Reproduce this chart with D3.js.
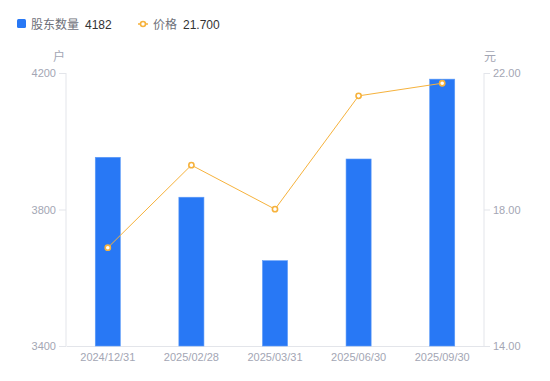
<!DOCTYPE html>
<html>
<head>
<meta charset="utf-8">
<script src="https://cdn.jsdelivr.net/npm/d3@7/dist/d3.min.js"></script>
<style>
  body { margin: 0; background: #fff; }
  svg { display: block; font-family: "Liberation Sans", "Noto Sans CJK SC", sans-serif; }
</style>
</head>
<body>
<div id="chart"></div>
<script>
// Data
const dates = ['2024/12/31', '2025/02/28', '2025/03/31', '2025/06/30', '2025/09/30'];
const holders = [3953, 3836, 3650, 3948, 4182];
const prices = [16.88, 19.30, 18.01, 21.33, 21.70];
const leftTicks = [3400, 3800, 4200];
const rightTicks = [14, 18, 22];

const W = 550, H = 381;
const margin = { top: 73, right: 66, bottom: 35, left: 66 };
const innerW = W - margin.left - margin.right;
const innerH = H - margin.top - margin.bottom;

const barColor = '#2878F5';
const lineColor = '#F6B23C';
const labelColor = '#A3A6B4';
const axisColor = '#E3E5EA';

const svg = d3.select('#chart').append('svg')
    .attr('width', W)
    .attr('height', H);

const g = svg.append('g')
    .attr('transform', `translate(${margin.left}, ${margin.top})`);

// Scales
const x = d3.scaleBand().domain(dates).range([0, innerW]);
const yLeft = d3.scaleLinear().domain([3400, 4200]).range([innerH, 0]);
const yRight = d3.scaleLinear().domain([14, 22]).range([innerH, 0]);

// Left axis
const leftAxis = g.append('g')
    .call(d3.axisLeft(yLeft).tickValues(leftTicks).tickFormat(d3.format('d')).tickSize(7).tickPadding(3));
leftAxis.select('.domain').attr('stroke', axisColor).attr('d', `M0,0V${innerH}`);
leftAxis.selectAll('.tick line').attr('stroke', axisColor);
leftAxis.selectAll('.tick text').attr('fill', labelColor).style('font-size', '11px');

// Right axis
const rightAxis = g.append('g')
    .attr('transform', `translate(${innerW}, 0)`)
    .call(d3.axisRight(yRight).tickValues(rightTicks).tickFormat(d3.format('.2f')).tickSize(6).tickPadding(3));
rightAxis.select('.domain').attr('stroke', axisColor).attr('d', `M0,0V${innerH}`);
rightAxis.selectAll('.tick line').attr('stroke', axisColor);
rightAxis.selectAll('.tick text').attr('fill', labelColor).style('font-size', '11px');

// Bottom axis
const bottomAxis = g.append('g')
    .attr('transform', `translate(0, ${innerH})`)
    .call(d3.axisBottom(x).tickSize(0).tickPadding(7));
bottomAxis.select('.domain').attr('stroke', axisColor);
bottomAxis.selectAll('.tick text').attr('fill', labelColor).style('font-size', '11px');

// Axis names
g.append('text')
    .attr('x', -7).attr('y', -12)
    .attr('text-anchor', 'middle')
    .attr('fill', labelColor)
    .style('font-size', '12px')
    .text('户');
g.append('text')
    .attr('x', innerW + 6).attr('y', -12)
    .attr('text-anchor', 'middle')
    .attr('fill', labelColor)
    .style('font-size', '12px')
    .text('元');

// Bars
const barW = x.bandwidth() * 0.3;
g.selectAll('.bar')
    .data(holders)
    .enter().append('rect')
    .attr('class', 'bar')
    .attr('x', (d, i) => x(dates[i]) + (x.bandwidth() - barW) / 2)
    .attr('y', d => yLeft(d))
    .attr('width', barW)
    .attr('height', d => innerH - yLeft(d))
    .attr('fill', barColor)
    .attr('stroke', '#5E9BF8')
    .attr('stroke-width', 0.6);

// Price line
const line = d3.line()
    .x((d, i) => x(dates[i]) + x.bandwidth() / 2)
    .y(d => yRight(d));

g.append('path')
    .datum(prices)
    .attr('fill', 'none')
    .attr('stroke', lineColor)
    .attr('stroke-width', 1)
    .attr('d', line);

g.selectAll('.dot')
    .data(prices)
    .enter().append('circle')
    .attr('class', 'dot')
    .attr('cx', (d, i) => x(dates[i]) + x.bandwidth() / 2)
    .attr('cy', d => yRight(d))
    .attr('r', 2.6)
    .attr('fill', '#fff')
    .attr('stroke', lineColor)
    .attr('stroke-width', 1.6);

// Legend
const legend = svg.append('g').attr('transform', 'translate(17, 24)');
legend.append('rect')
    .attr('x', 0).attr('y', -5)
    .attr('width', 9).attr('height', 9)
    .attr('rx', 1.5)
    .attr('fill', barColor);
legend.append('text')
    .attr('x', 14).attr('y', 4.5)
    .attr('fill', '#6E7079')
    .style('font-size', '12px')
    .text('股东数量');
legend.append('text')
    .attr('x', 68).attr('y', 4.5)
    .attr('fill', '#333')
    .style('font-size', '12px')
    .text(holders[holders.length - 1]);

legend.append('line')
    .attr('x1', 121).attr('x2', 131)
    .attr('y1', 0).attr('y2', 0)
    .attr('stroke', lineColor)
    .attr('stroke-width', 1.5);
legend.append('circle')
    .attr('cx', 126).attr('cy', 0)
    .attr('r', 2.5)
    .attr('fill', '#fff')
    .attr('stroke', lineColor)
    .attr('stroke-width', 1.6);
legend.append('text')
    .attr('x', 136).attr('y', 4.5)
    .attr('fill', '#6E7079')
    .style('font-size', '12px')
    .text('价格');
legend.append('text')
    .attr('x', 166).attr('y', 4.5)
    .attr('fill', '#333')
    .style('font-size', '12px')
    .text(d3.format('.3f')(prices[prices.length - 1]));
</script>
</body>
</html>
